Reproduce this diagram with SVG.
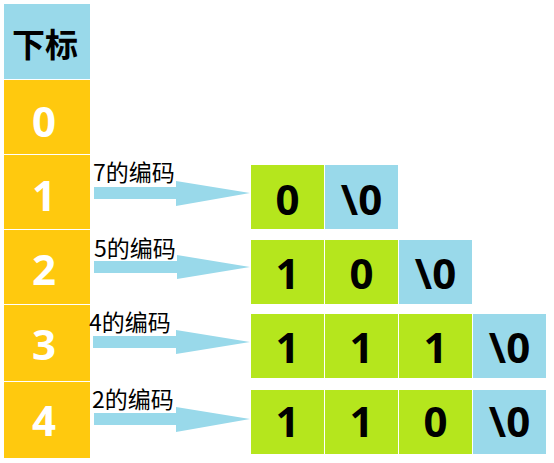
<svg xmlns="http://www.w3.org/2000/svg" width="554" height="463" viewBox="0 0 554 463">
<style>
.blue{fill:#99D9EA}
.gold{fill:#FFC90E}
.lime{fill:#B5E61D}
.idx{font-family:"Open Sans","Noto Sans CJK SC",sans-serif;font-weight:bold;font-size:42px;fill:#FFFFFF;text-anchor:middle}
.val{font-family:"Open Sans","Noto Sans CJK SC",sans-serif;font-weight:bold;font-size:42px;fill:#000000;text-anchor:middle}
.hdr{font-family:"Noto Sans CJK SC",sans-serif;font-weight:bold;font-size:33px;fill:#000000;text-anchor:middle}
.lbl{font-family:"Noto Sans CJK SC",sans-serif;font-size:23px;fill:#000000}
.arrow{fill:#99D9EA}
</style>
<rect width="554" height="463" fill="#FFFFFF"/>
<g id="header">
<rect class="blue" x="4" y="4" width="86" height="75"/>
<text class="hdr" x="45" y="57">下标</text>
</g>
<g id="idx0"><rect class="gold" x="4" y="80" width="86" height="74"/><text class="idx" x="44" y="137">0</text></g>
<g id="idx1"><rect class="gold" x="4" y="155" width="86" height="74"/><text class="idx" x="44" y="211">1</text></g>
<g id="idx2"><rect class="gold" x="4" y="230" width="86" height="74"/><text class="idx" x="44" y="285">2</text></g>
<g id="idx3"><rect class="gold" x="4" y="305" width="86" height="76"/><text class="idx" x="44" y="360">3</text></g>
<g id="idx4"><rect class="gold" x="4" y="382" width="86" height="76"/><text class="idx" x="44" y="436">4</text></g>

<g id="code7">
<rect class="lime" x="251" y="165" width="73" height="64"/><text class="val" x="287.5" y="215">0</text>
<rect class="blue" x="325" y="165" width="73" height="64"/><text class="val" x="361.5" y="215">\0</text>
</g>
<g id="code5">
<rect class="lime" x="251" y="240" width="73" height="64"/><text class="val" x="287.5" y="289">1</text>
<rect class="lime" x="325" y="240" width="73" height="64"/><text class="val" x="361.5" y="289">0</text>
<rect class="blue" x="399" y="240" width="73" height="64"/><text class="val" x="435.5" y="289">\0</text>
</g>
<g id="code4">
<rect class="lime" x="251" y="314" width="73" height="64"/><text class="val" x="287.5" y="363">1</text>
<rect class="lime" x="325" y="314" width="73" height="64"/><text class="val" x="361.5" y="363">1</text>
<rect class="lime" x="399" y="314" width="73" height="64"/><text class="val" x="435.5" y="363">1</text>
<rect class="blue" x="473" y="314" width="73" height="64"/><text class="val" x="509.5" y="363">\0</text>
</g>
<g id="code2">
<rect class="lime" x="251" y="390" width="73" height="64"/><text class="val" x="287.5" y="437">1</text>
<rect class="lime" x="325" y="390" width="73" height="64"/><text class="val" x="361.5" y="437">1</text>
<rect class="lime" x="399" y="390" width="73" height="64"/><text class="val" x="435.5" y="437">0</text>
<rect class="blue" x="473" y="390" width="73" height="64"/><text class="val" x="509.5" y="437">\0</text>
</g>

<g id="connectors">
<polygon class="arrow" points="94,187 176,187 176,181 250,193 176,206 176,199 94,199"/>
<text class="lbl" x="93" y="181">7的编码</text>
<polygon class="arrow" points="94,261 177,261 177,255 250,267 177,279 177,273 94,273"/>
<text class="lbl" x="94" y="257">5的编码</text>
<polygon class="arrow" points="93,336 176,336 176,330 250,342 176,354 176,348 93,348"/>
<text class="lbl" x="89" y="331">4的编码</text>
<polygon class="arrow" points="94,413 176,413 176,407 250,419 176,432 176,425 94,425"/>
<text class="lbl" x="92" y="408">2的编码</text>
</g>
</svg>
